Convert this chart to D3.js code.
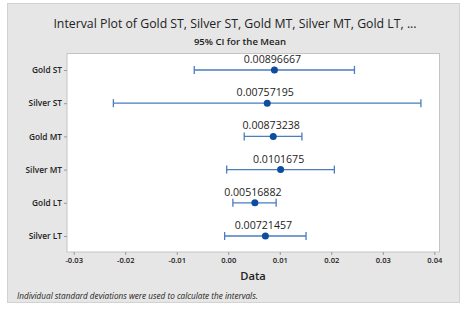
<!DOCTYPE html>
<html><head><meta charset="utf-8">
<script src="https://cdn.jsdelivr.net/npm/d3@7"></script>
<style>body{margin:0;background:#fff;}svg{display:block;font-family:"Open Sans","Noto Sans",sans-serif;}</style>
</head><body>
<svg id="c" width="468" height="310"></svg>
<script>
const categories = ["Gold ST","Silver ST","Gold MT","Silver MT","Gold LT","Silver LT"];
const means = [0.00896667,0.00757195,0.00873238,0.0101675,0.00516882,0.00721457];
const lows  = [-0.0066,-0.0223,0.0031,-0.0003,0.0009,-0.0007];
const highs = [0.0245,0.0374,0.0143,0.0206,0.0093,0.0151];
const meanLabels = ["0.00896667","0.00757195","0.00873238","0.0101675","0.00516882","0.00721457"];
const xTicks = [-0.03,-0.02,-0.01,0.00,0.01,0.02,0.03,0.04];
const xTickLabels = ["-0.03","-0.02","-0.01","0.00","0.01","0.02","0.03","0.04"];

const svg = d3.select("#c");
svg.append("rect").attr("x",7.5).attr("y",3.5).attr("width",452).attr("height",299)
  .attr("fill","#e6e6e6").attr("stroke","#d2d2d2");

const L=67, R=439.5, T=53.5, B=252;
svg.append("rect").attr("x",L).attr("y",T).attr("width",R-L).attr("height",B-T)
  .attr("fill","#fff").attr("stroke","#c4c4c4");

const x = d3.scaleLinear().domain([-0.03,0.04]).range([73.7,434.3]);
const y = d3.scalePoint().domain(categories).range([70,236]);

svg.append("text").attr("x",235).attr("y",28).attr("text-anchor","middle")
  .attr("font-size",12.3).attr("fill","#222")
  .text("Interval Plot of Gold ST, Silver ST, Gold MT, Silver MT, Gold LT, ...");
svg.append("text").attr("x",240).attr("y",45).attr("text-anchor","middle")
  .attr("font-size",9.5).attr("font-weight",600).attr("fill","#222")
  .text("95% CI for the Mean");

// x axis
const xa = svg.append("g").attr("transform",`translate(0,${B})`)
  .call(d3.axisBottom(x).tickValues(xTicks).tickFormat((d,i)=>xTickLabels[i]).tickSize(3).tickPadding(3));
xa.select(".domain").remove();
xa.selectAll("line").attr("stroke","#999");
xa.selectAll("text").attr("font-size",7.6).attr("font-weight",600).attr("fill","#222").attr("font-family","Open Sans, sans-serif");

// y axis
const ya = svg.append("g").attr("transform",`translate(${L},0)`)
  .call(d3.axisLeft(y).tickSize(3).tickPadding(2));
ya.select(".domain").remove();
ya.selectAll("line").attr("stroke","#999");
ya.selectAll("text").attr("font-size",8.3).attr("font-weight",600).attr("fill","#222").attr("font-family","Open Sans, sans-serif");

svg.append("text").attr("x",253).attr("y",280).attr("text-anchor","middle")
  .attr("font-size",11.2).attr("font-weight",600).attr("fill","#222").text("Data");
svg.append("text").attr("x",17).attr("y",298.5)
  .attr("font-size",8.2).attr("font-style","italic").attr("fill","#222")
  .text("Individual standard deviations were used to calculate the intervals.");

const col = "#4a7cc0";
const g = svg.append("g");
categories.forEach((c,i)=>{
  const yy = y(c);
  g.append("line").attr("x1",x(lows[i])).attr("x2",x(highs[i])).attr("y1",yy).attr("y2",yy)
    .attr("stroke",col).attr("stroke-width",1.3);
  [lows[i],highs[i]].forEach(v=>{
    g.append("line").attr("x1",x(v)).attr("x2",x(v)).attr("y1",yy-4).attr("y2",yy+4)
      .attr("stroke",col).attr("stroke-width",1.3);
  });
  g.append("circle").attr("cx",x(means[i])).attr("cy",yy).attr("r",3.5).attr("fill","#0e4c9e");
  g.append("text").attr("x",x(means[i])-2).attr("y",yy-7).attr("text-anchor","middle")
    .attr("font-size",10.6).attr("fill","#222").text(meanLabels[i]);
});
</script>
</body></html>
